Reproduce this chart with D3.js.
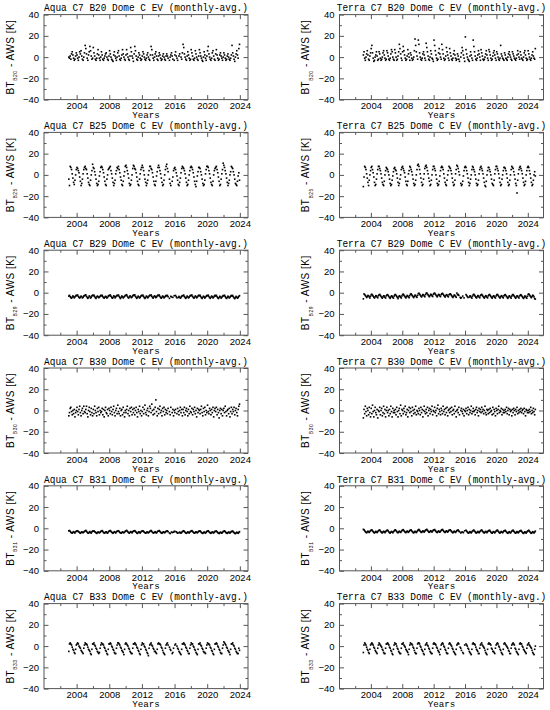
<!DOCTYPE html>
<html>
<head>
<meta charset="utf-8">
<script src="https://cdn.jsdelivr.net/npm/d3@7"></script>
<style>
  body { margin: 0; background: #fff; }
</style>
</head>
<body>
<svg id="chart" width="550" height="710"></svg>
<script>
// Monthly averages, Jan of firstYear onwards (one row per year, _ = no data)
var _ = null;
var firstYear = 2003;
var satellites = ["Aqua", "Terra"];
var bands = ["B20", "B25", "B29", "B30", "B31", "B33"];
var xTicks = [2004, 2008, 2012, 2016, 2020, 2024];
var xMinor = [2002, 2006, 2010, 2014, 2018, 2022];
var yTicks = [-40, -20, 0, 20, 40];
var yMinor = [-30, -10, 10, 30];

var aquaB20 = [
  0,-1,1,-2,3,5,2,-1,-3,-2,1,4,
  2,-1,-3,0,5,3,6,1,-2,-3,0,4,
  11,8,3,-1,-3,2,5,10,6,1,-2,-1,
  9,4,1,-2,-3,-1,3,7,2,-1,-3,0,
  5,2,-2,-3,-1,1,3,4,0,-2,-3,1,
  6,3,0,-2,-3,-4,2,5,1,-1,-3,0,
  4,6,1,-2,-3,-1,2,7,3,0,-2,-3,
  2,7,3,0,-2,-3,1,9,5,1,-1,-4,
  3,10,6,1,-2,-3,0,4,2,-1,-3,-2,
  1,5,3,0,-2,-3,-1,2,4,0,-2,-3,
  2,10,7,2,-1,-3,0,3,5,1,-2,-3,
  1,4,2,-1,-3,-2,1,3,0,-2,-3,1,
  3,1,-1,_,-3,0,2,4,1,-2,_,-3,
  2,5,1,-1,-3,_,1,3,_,0,-2,4,
  12,9,3,0,-2,-3,1,5,2,-1,-3,-2,
  7,4,1,-2,-3,-1,6,3,0,-2,-3,1,
  7,4,1,-1,-3,-4,0,5,2,-1,-3,1,
  6,10,3,0,-2,-3,-1,4,6,1,-2,-3,
  3,7,2,-1,-3,-2,2,4,1,-1,-3,0,
  4,2,-1,-3,-2,1,3,0,-2,-3,-1,2,
  11,4,1,-2,-4,0,3,6,2,-1,8,12
];
var terraB20 = [
  2,5,-1,-3,0,3,6,2,-2,-3,1,4,
  8,11,4,-1,-4,-3,0,2,5,1,-3,-2,
  5,3,-1,-3,-2,0,4,6,2,-1,-3,-2,
  6,4,1,-2,-3,-1,3,7,5,0,-2,-3,
  7,4,0,-3,-2,1,5,12,8,3,-1,-3,
  5,10,6,2,-1,-3,-2,1,7,3,0,-3,
  4,2,-1,-3,-2,0,6,17,11,5,1,-2,
  16,12,4,0,-2,-3,-1,3,5,2,-1,-3,
  13,9,5,1,-2,-3,0,6,3,-1,-2,-4,
  16,11,6,2,-1,-3,-2,4,8,3,0,-2,
  12,7,3,-1,-3,-2,1,9,5,2,-1,-3,
  8,4,1,-2,-3,-1,3,6,2,-1,-3,-2,
  3,1,-2,-4,_,0,4,9,6,2,-1,-4,
  19,7,3,0,-2,-3,-4,1,5,2,-1,-3,
  16,10,5,1,-2,-3,-1,2,6,3,0,-3,
  7,4,1,-2,-3,-2,0,3,6,2,-1,-3,
  7,5,2,-1,-3,-2,1,4,6,2,-1,-3,
  5,3,0,-2,-3,-1,11,3,1,-1,-2,-3,
  4,2,-1,-2,-3,0,3,5,2,0,-2,-3,
  5,3,1,-1,-2,-3,-1,2,6,3,0,-2,
  5,2,-1,-2,-3,0,4,6,2,-1,-3,-2,
  6,3,0,-2,-3,-1,2,5,1,-1,-2,8
];
var aquaB25 = [
  -4,-10,8,7,5,1,-3,-7,-9,-5,0,5,
  7,6,4,2,-2,-6,-10,-8,-4,1,5,7,
  8,6,5,1,-3,-7,-9,-10,-5,0,4,10,
  7,6,3,0,-4,-8,-10,-9,-6,-1,3,7,
  8,7,5,2,-2,-6,-9,-10,-4,0,5,6,
  7,8,4,1,-3,-7,-10,-8,-5,1,4,7,
  6,8,5,2,-2,-5,-9,-10,-6,-1,3,8,
  9,7,4,1,-3,-8,-10,-9,-5,0,6,9,
  8,6,5,2,-2,-6,-9,-10,-4,1,5,7,
  9,7,4,0,-4,-7,-10,-8,-5,0,4,8,
  8,6,5,2,-2,-6,-9,-10,-6,-1,3,7,
  9,7,4,1,-3,-7,-10,-9,-5,0,5,8,
  10,6,3,_,-4,-8,-10,_,-6,-2,4,6,
  7,5,2,-1,-5,-9,-10,-7,-3,2,6,8,
  7,6,4,1,-3,-7,-10,-9,-5,0,4,7,
  8,7,5,2,-2,-6,-9,-11,-6,-1,3,7,
  7,6,3,0,-4,-8,-10,-9,-5,1,5,8,
  8,7,4,1,-3,-7,-9,-10,-6,0,4,6,
  7,8,5,2,-2,-6,-10,-9,-4,1,5,11,
  9,7,4,1,-3,-7,-10,-8,-5,0,3,8,
  7,6,3,0,-4,-8,-9,-10,-6,-1,2,-5
];
var terraB25 = [
  -11,-2,8,7,5,1,-3,-7,-10,-5,0,4,
  7,8,5,2,-2,-7,-10,-9,-4,1,5,8,
  8,6,4,1,-3,-7,-9,-10,-6,0,4,7,
  6,5,3,0,-4,-8,-10,-9,-5,-1,3,6,
  7,5,4,1,-3,-7,-10,-8,-4,0,5,7,
  8,6,4,2,-2,-6,-9,-10,-6,1,4,8,
  7,5,3,0,-4,-8,-10,-9,-5,0,5,9,
  10,8,5,1,-3,-7,-10,-9,-4,1,6,8,
  9,7,4,1,-3,-6,-10,-9,-5,0,5,8,
  8,6,4,0,-4,-8,-10,-9,-6,-1,4,7,
  8,7,5,1,-3,-7,-9,-10,-5,0,4,8,
  7,6,4,1,-3,-7,-10,-9,-5,1,5,9,
  8,6,3,0,_,-8,-10,-9,-6,-1,4,7,
  8,7,4,1,-3,-7,-10,-8,-4,0,5,8,
  7,5,3,0,-4,-8,-10,-9,-5,1,5,7,
  8,6,4,1,-3,-7,-10,-11,-6,0,4,7,
  7,5,3,0,-4,-8,-9,-10,-5,1,5,8,
  8,6,4,1,-3,-7,-10,-9,-4,0,4,7,
  7,6,4,1,-3,-7,-10,-9,-5,0,5,8,
  7,6,3,0,-4,-8,-10,-17,-5,1,5,7,
  8,6,4,1,-3,-7,-10,-9,-6,0,4,7,
  8,7,4,1,-3,-7,-10,-9,-5,0,3,-1
];
var aquaB29 = [
  -3.2,-2.5,-3.8,-4.6,-5.2,-4.1,-3.0,-3.9,-4.8,-4.0,-3.1,-2.4,
  -2.8,-2.2,-3.5,-4.4,-5.0,-4.2,-3.3,-3.7,-4.9,-4.3,-3.2,-2.6,
  -2.6,-2.0,-3.4,-4.5,-5.3,-4.4,-3.1,-3.6,-5.1,-4.2,-3.0,-2.3,
  -2.9,-2.3,-3.6,-4.7,-5.4,-4.0,-3.2,-3.8,-4.7,-4.1,-3.3,-2.5,
  -3.0,-2.4,-3.7,-4.6,-5.1,-4.3,-3.4,-4.0,-5.0,-4.4,-3.2,-2.7,
  -2.7,-2.1,-3.3,-4.3,-5.2,-4.5,-3.0,-3.5,-4.8,-4.0,-3.1,-2.4,
  -2.8,-2.2,-3.5,-4.6,-5.5,-4.2,-3.1,-3.9,-4.9,-4.2,-3.4,-2.6,
  -2.5,-1.9,-3.2,-4.4,-5.0,-4.1,-3.0,-3.6,-4.7,-4.0,-3.0,-2.2,
  -2.6,-2.0,-3.4,-4.5,-5.3,-4.3,-3.3,-3.8,-5.0,-4.3,-3.2,-2.5,
  -2.9,-2.3,-3.6,-4.7,-5.4,-4.4,-3.2,-3.7,-4.8,-4.1,-3.1,-2.4,
  -2.7,-2.1,-3.3,-4.4,-5.1,-4.0,-3.0,-3.6,-4.6,-4.0,-3.0,-2.3,
  -2.8,-2.2,-3.5,-4.6,-5.2,-4.2,-3.1,-3.9,-4.9,-4.2,-3.3,-2.6,
  -3.0,-2.5,-3.8,_,-5.3,_,-3.4,-4.0,_,-4.4,_,-2.8,
  _,-2.6,-3.9,-4.8,_,-4.5,-3.5,-4.1,-5.1,-4.5,-3.4,-2.7,
  -2.9,-2.3,-3.6,-4.6,-5.3,-4.3,-3.2,-3.8,-4.9,-4.2,-3.2,-2.5,
  -2.8,-2.2,-3.5,-4.5,-5.2,-4.2,-3.1,-3.7,-4.8,-4.1,-3.1,-2.4,
  -3.0,-2.4,-3.7,-4.7,-5.4,-4.4,-3.3,-3.9,-5.0,-4.3,-3.3,-2.6,
  -2.9,-2.3,-3.6,-4.6,-5.3,-4.3,-3.2,-3.8,-4.9,-4.2,-3.2,-2.5,
  -3.1,-2.5,-3.8,-4.8,-5.5,-4.5,-3.4,-4.0,-5.1,-4.4,-3.4,-2.7,
  -3.0,-2.4,-3.7,-4.7,-5.4,-4.4,-3.3,-3.9,-5.0,-4.3,-3.3,-2.6,
  -3.2,-2.6,-3.9,-4.9,-5.6,-4.6,-3.5,-4.1,-5.2,-4.5,-3.5,-2.8
];
var terraB29 = [
  -5.8,-1.2,-1.8,-2.6,-3.4,-4.5,-3.7,-2.6,-2.9,-4.0,-5.0,-3.3,
  -1.9,-1.5,-2.4,-3.3,-4.2,-5.0,-3.9,-2.8,-3.1,-4.1,-4.8,-2.9,
  -2.0,-1.6,-2.5,-3.5,-4.4,-5.2,-4.0,-2.9,-3.2,-4.3,-5.0,-3.0,
  -2.2,-1.8,-2.7,-3.6,-4.5,-5.3,-4.1,-3.0,-3.4,-4.4,-5.1,-3.2,
  -2.1,-1.7,-2.6,-3.5,-4.4,-5.6,-4.0,-2.9,-3.3,-4.2,-5.0,-3.1,
  -1.8,-1.4,-2.3,-3.2,-4.1,-4.9,-3.7,-2.6,-3.0,-4.0,-4.7,-2.8,
  -1.5,-1.1,-2.0,-2.9,-3.8,-4.6,-3.4,-2.3,-2.7,-3.7,-4.4,-2.5,
  -0.9,-0.5,-1.4,-2.3,-3.2,-4.0,-2.8,-1.7,-2.1,-3.1,-3.8,-1.9,
  -0.6,-0.2,-1.2,-2.1,-3.0,-3.8,-2.6,-1.5,-1.9,-2.9,-3.6,-1.6,
  -0.8,-0.4,-1.3,-2.2,-3.1,-3.9,-2.7,-1.6,-2.0,-3.0,-3.7,-1.8,
  -1.0,-0.6,-1.5,-2.4,-3.3,-4.1,-2.9,-1.8,-2.2,-3.2,-3.9,-2.0,
  -1.4,-1.0,-1.9,-2.8,-3.7,-4.5,-3.3,-2.2,-2.6,-3.6,-4.3,-0.4,
  -2.0,-1.6,-2.5,_,-4.4,-5.2,-4.6,_,-3.2,_,-4.9,_,
  _,-1.8,-2.7,-3.6,-4.5,_,-4.1,-3.0,-3.4,-4.4,-5.1,-3.2,
  -1.9,-1.5,-2.4,-3.3,-4.2,-5.0,-3.8,-2.7,-3.1,-4.1,-4.8,-2.9,
  -2.0,-1.6,-2.5,-3.4,-4.3,-5.1,-3.9,-2.8,-3.2,-4.2,-4.9,-3.0,
  -2.1,-1.7,-2.6,-3.5,-4.4,-5.2,-4.0,-2.9,-3.3,-4.3,-5.0,-3.1,
  -2.0,-1.6,-2.5,-3.4,-4.3,-5.1,-3.9,-2.8,-3.2,-4.2,-4.9,-3.0,
  -2.2,-1.8,-2.7,-3.6,-4.5,-5.3,-4.1,-3.0,-3.4,-4.4,-5.1,-3.2,
  -2.1,-1.7,-2.6,-3.5,-4.4,-5.2,-4.0,-2.9,-3.3,-4.3,-5.0,-3.1,
  -2.3,-1.9,-2.8,-3.7,-4.6,-5.4,-4.2,-3.1,-3.5,-4.5,-5.2,-3.3,
  -1.6,-1.2,-2.1,-3.0,-3.9,-4.7,-3.5,-2.4,-2.8,-4.0,-5.6,-6.0
];
var aquaB30 = [
  -5,-2,2,3,-1,-4,0,-3,1,-6,-2,0,
  3,-1,-4,1,4,-2,-5,0,2,-3,4,-1,
  -2,1,4,-3,-6,0,3,-1,-4,2,-2,-5,
  1,-3,4,0,-2,-5,2,-1,3,-4,0,-2,
  -1,2,-4,1,-6,0,3,-2,-3,1,-5,2,
  0,-3,3,-1,-4,1,4,-2,-5,0,2,-3,
  5,-1,-3,2,-5,0,1,-4,3,-2,-6,0,
  -2,1,4,-3,0,-5,2,-1,3,-4,1,-2,
  2,-4,0,3,-2,-6,1,-1,4,-3,0,-5,
  -1,3,-3,1,5,-2,-4,0,2,-5,-1,4,
  2,-2,6,0,-4,1,-3,3,10,-1,-5,2,
  -3,1,4,-2,0,-5,2,-1,3,-4,1,-2,
  0,-3,2,_,-1,-4,3,_,-2,1,-5,0,
  -2,1,_,-3,2,-1,-4,0,3,-2,1,-5,
  1,-2,3,-4,0,2,-1,-5,1,-3,4,-1,
  -2,2,-4,1,-1,3,-3,0,-6,2,-2,1,
  0,-3,1,4,-2,-5,2,-1,3,-4,0,-2,
  5,-1,-3,2,0,-4,1,-2,3,-6,0,2,
  -1,3,-4,1,-2,-7,0,2,-3,1,-5,0,
  2,-2,4,-1,-5,0,1,-3,2,-6,-1,3,
  -3,1,-1,3,-4,0,2,-2,-5,1,4,6
];
var terraB30 = [
  -7,1,-3,4,-1,-5,2,0,-4,3,-2,-6,
  2,-3,5,-1,-6,0,3,-2,-4,1,-7,0,
  -1,3,-4,0,2,-5,-2,4,-3,1,-6,0,
  3,-2,0,-5,1,-3,4,-1,-6,2,-2,0,
  -2,1,-4,3,-1,-6,0,2,-3,5,-5,1,
  0,-3,2,-1,4,-4,-2,1,-6,0,3,-2,
  2,-1,-5,3,0,-3,1,-2,4,-4,0,-1,
  -3,2,0,-4,3,-2,1,-6,0,4,-1,-3,
  1,-2,3,-5,0,2,-3,1,-1,4,-4,0,
  -1,3,-2,0,-5,2,5,-3,1,-1,-4,2,
  0,-3,4,-1,1,-4,2,-2,3,-5,0,1,
  -2,2,-1,3,-4,0,1,-3,4,-1,-6,0,
  1,-2,3,-4,_,0,2,-1,-3,1,-5,0,
  -1,2,-3,0,3,-4,1,-2,0,4,-3,-1,
  2,-1,0,-4,1,3,-2,0,-5,2,-1,1,
  -2,3,-1,1,-3,0,4,-2,-4,1,0,-3,
  1,-2,2,-1,0,-4,3,-3,1,-1,-5,2,
  0,-3,1,4,-2,0,-1,2,-4,1,-2,0,
  -2,1,-1,3,-3,0,2,-4,1,-1,0,-5,
  1,-2,2,0,-4,1,-1,3,-3,0,-2,1,
  -1,2,-2,0,1,-3,2,-1,-5,1,0,-2,
  0,-2,1,-1,3,-3,0,-2,2,-1,-4,1
];
var aquaB31 = [
  -2.4,-2.1,-2.9,-3.7,-4.3,-4.5,-3.8,-3.2,-3.9,-4.4,-3.4,-2.7,
  -2.6,-2.3,-3.1,-3.5,-4.1,-4.7,-4.0,-3.4,-3.7,-4.2,-3.6,-2.9,
  -2.5,-2.0,-2.8,-3.8,-4.4,-4.6,-3.7,-3.1,-4.0,-4.5,-3.3,-2.6,
  -2.7,-2.4,-3.2,-3.6,-4.2,-4.8,-4.1,-3.5,-3.8,-4.3,-3.7,-3.0,
  -2.6,-2.2,-3.0,-3.9,-4.5,-4.4,-3.6,-3.3,-4.1,-4.6,-3.5,-2.8,
  -2.5,-2.1,-2.9,-3.6,-4.2,-4.7,-3.9,-3.2,-3.7,-4.4,-3.4,-2.7,
  -2.8,-2.3,-3.1,-3.8,-4.3,-4.5,-4.0,-3.4,-3.9,-4.2,-3.6,-2.9,
  -2.4,-2.0,-2.7,-3.5,-4.1,-4.6,-3.8,-3.1,-3.6,-4.3,-3.3,-2.6,
  -2.6,-2.2,-3.0,-3.7,-4.4,-4.8,-3.9,-3.3,-3.8,-4.5,-3.5,-2.8,
  -2.7,-2.3,-3.1,-3.6,-4.2,-4.6,-4.1,-3.4,-3.9,-4.3,-3.6,-3.0,
  -2.5,-2.1,-2.9,-3.8,-4.3,-4.4,-3.7,-3.2,-4.0,-4.4,-3.4,-2.7,
  -2.6,-2.2,-3.0,-3.7,-4.5,-4.7,-3.9,-3.3,-3.8,-4.2,-3.5,-2.8,
  -2.8,-2.4,-3.2,_,-4.4,-4.9,_,-3.5,-4.0,_,-3.7,-3.0,
  -2.9,_,-3.3,-3.9,-4.6,_,-4.2,-3.6,-4.1,-4.6,-3.8,-3.1,
  -2.7,-2.3,-3.1,-3.8,-4.4,-4.7,-4.0,-3.4,-3.9,-4.4,-3.6,-2.9,
  -2.6,-2.2,-3.0,-3.7,-4.3,-4.6,-3.9,-3.3,-3.8,-4.3,-3.5,-2.8,
  -2.8,-2.4,-3.2,-3.9,-4.5,-4.8,-4.1,-3.5,-4.0,-4.5,-3.7,-3.0,
  -2.7,-2.3,-3.1,-3.8,-4.4,-4.7,-4.0,-3.4,-3.9,-4.4,-3.6,-2.9,
  -2.9,-2.5,-3.3,-4.0,-4.6,-4.9,-4.2,-3.6,-4.1,-4.6,-3.8,-3.1,
  -2.8,-2.4,-3.2,-3.9,-4.5,-4.8,-4.1,-3.5,-4.0,-4.5,-3.7,-3.0,
  -3.0,-2.6,-3.4,-4.1,-4.7,-5.0,-4.3,-3.7,-4.2,-4.7,-3.9,-3.2
];
var terraB31 = [
  -1.0,-1.4,-2.3,-3.1,-3.8,-4.2,-3.4,-2.7,-3.3,-3.9,-3.0,-2.2,
  -1.8,-1.5,-2.4,-3.2,-3.9,-4.4,-3.6,-2.9,-3.5,-4.0,-3.1,-2.3,
  -1.9,-1.6,-2.5,-3.3,-4.0,-4.3,-3.5,-2.8,-3.4,-4.1,-3.2,-2.4,
  -2.0,-1.7,-2.6,-3.4,-4.1,-4.5,-3.7,-3.0,-3.6,-4.2,-3.3,-2.5,
  -1.8,-1.4,-2.3,-3.1,-3.8,-4.2,-3.4,-2.7,-3.3,-3.9,-3.0,-2.2,
  -1.7,-1.3,-2.2,-3.0,-3.7,-4.1,-3.3,-2.6,-3.2,-3.8,-2.9,-2.1,
  -1.9,-1.5,-2.4,-3.2,-3.9,-4.3,-3.5,-2.8,-3.4,-4.0,-3.1,-2.3,
  -1.5,-1.1,-2.0,-2.8,-3.5,-3.9,-3.1,-2.4,-3.0,-3.6,-2.7,-1.9,
  -1.4,-1.0,-1.9,-2.7,-3.4,-3.8,-3.0,-2.3,-2.9,-3.5,-2.6,-1.8,
  -1.6,-1.2,-2.1,-2.9,-3.6,-4.0,-3.2,-2.5,-3.1,-3.7,-2.8,-2.0,
  -1.5,-1.1,-2.0,-2.8,-3.5,-3.9,-3.1,-2.4,-3.0,-3.6,-2.7,-1.9,
  -1.8,-1.4,-2.3,-3.1,-3.8,-4.2,-3.4,-2.7,-3.3,-3.9,-3.0,-2.2,
  -2.0,-1.6,-2.5,-3.3,_,-4.4,-3.6,_,-3.5,-4.1,_,-2.4,
  _,-1.8,-2.7,-3.5,-4.2,-4.6,-3.8,-3.1,-3.7,-4.3,-3.4,-2.6,
  -2.1,-1.7,-2.6,-3.4,-4.1,-4.5,-3.7,-3.0,-3.6,-4.2,-3.3,-2.5,
  -2.0,-1.6,-2.5,-3.3,-4.0,-4.4,-3.6,-2.9,-3.5,-4.1,-3.2,-2.4,
  -2.2,-1.8,-2.7,-3.5,-4.2,-4.6,-3.8,-3.1,-3.7,-4.3,-3.4,-2.6,
  -2.1,-1.7,-2.6,-3.4,-4.1,-4.5,-3.7,-3.0,-3.6,-4.2,-3.3,-2.5,
  -2.3,-1.9,-2.8,-3.6,-4.3,-4.7,-3.9,-3.2,-3.8,-4.4,-3.5,-2.7,
  -2.2,-1.8,-2.7,-3.5,-4.2,-4.6,-3.8,-3.1,-3.7,-4.3,-3.4,-2.6,
  -2.4,-2.0,-2.9,-3.7,-4.4,-4.8,-4.0,-3.3,-3.9,-4.5,-3.6,-2.8,
  -2.3,-1.9,-2.8,-3.6,-4.3,-4.7,-3.9,-3.2,-3.8,-4.4,-3.5,-2.7
];
var aquaB33 = [
  -5,2,3,2,1,-1,-3,-4,-6,-7,-3,1,
  2,3,2,0,-1,-2,-4,-5,-6,-7,-2,1,
  3,2,2,1,-1,-3,-4,-5,-7,-8,-3,2,
  2,3,1,0,-2,-3,-5,-6,-7,-6,-2,1,
  3,2,2,1,-1,-2,-4,-5,-7,-8,-3,2,
  2,3,2,0,-1,-3,-4,-6,-7,-7,-2,1,
  3,3,2,1,-1,-2,-4,-5,-6,-8,-3,2,
  3,2,1,0,-2,-3,-5,-6,-7,-7,-2,2,
  2,3,2,1,-1,-2,-4,-5,-7,-8,-3,1,
  3,2,2,0,-1,-3,-4,-6,-7,-9,-2,1,
  2,3,1,0,-2,-3,-5,-5,-6,-7,-3,2,
  3,2,2,1,-1,-2,-4,-6,-7,-8,-2,1,
  2,3,1,_,-1,-3,-4,_,-7,-6,-2,_,
  1,2,_,0,-2,-3,-5,-6,-7,-8,-3,2,
  2,3,2,1,-1,-2,-4,-5,-7,-7,-2,1,
  3,2,2,0,-1,-3,-4,-6,-7,-8,-3,2,
  2,3,1,0,-2,-3,-5,-6,-6,-7,-2,1,
  3,2,2,1,-1,-2,-4,-5,-7,-8,-3,2,
  2,3,2,0,-1,-3,-4,-6,-7,-7,-2,1,
  4,3,2,1,-1,-2,-4,-5,-6,-8,-3,2,
  2,3,1,0,-2,-3,-5,-6,-7,-7,-2,-4
];
var terraB33 = [
  -6,1,3,2,1,-1,-3,-4,-6,-7,-3,1,
  2,3,2,1,-1,-2,-4,-5,-6,-7,-2,1,
  3,2,1,0,-1,-3,-4,-6,-7,-7,-2,2,
  2,3,2,1,-1,-2,-4,-5,-7,-8,-3,1,
  3,2,2,0,-2,-3,-5,-6,-7,-7,-2,2,
  2,3,1,0,-1,-3,-4,-5,-6,-8,-3,1,
  3,2,2,1,-1,-2,-4,-6,-7,-7,-2,2,
  3,3,2,0,-1,-3,-4,-5,-7,-8,-3,1,
  2,3,1,0,-2,-3,-5,-6,-7,-7,-2,2,
  3,2,2,1,-1,-2,-4,-5,-6,-8,-3,1,
  2,3,2,0,-1,-3,-4,-6,-7,-7,-2,2,
  3,2,1,0,-2,-3,-5,-6,-7,-8,-3,1,
  2,3,2,_,-1,-2,-4,_,-6,-7,_,1,
  _,2,1,0,-2,-3,-5,-6,-7,-8,-3,2,
  3,2,2,1,-1,-3,-4,-5,-7,-7,-2,1,
  2,3,1,0,-1,-2,-4,-6,-7,-8,-3,2,
  3,2,2,1,-2,-3,-5,-5,-6,-7,-2,1,
  2,3,2,0,-1,-3,-4,-6,-7,-8,-3,2,
  3,2,1,0,-1,-2,-4,-5,-7,-7,-2,1,
  2,3,2,1,-2,-3,-5,-6,-7,-8,-3,2,
  3,2,2,0,-1,-3,-4,-5,-6,-7,-2,1,
  2,3,1,0,-1,-2,-4,-6,-7,-8,-3,0
];

var series = {
  Aqua: [aquaB20, aquaB25, aquaB29, aquaB30, aquaB31, aquaB33],
  Terra: [terraB20, terraB25, terraB29, terraB30, terraB31, terraB33]
};

// ------ //
// Layout //
// ------ //
var rowTop = 14.6,
    rowStep = 117.8,
    plotH = 85;
var cols = [
  {x0: 44, x1: 248, end: 2025, labelX: 13.5},
  {x0: 339.5, x1: 543.5, end: 2026, labelX: 309}
];
var frameColor = "#555";

var svg = d3.select("#chart");
svg.append("rect").attr("width", 550).attr("height", 710).attr("fill", "#fff");

satellites.forEach(function(sat, c) {
  var col = cols[c];
  bands.forEach(function(band, r) {
    var top = rowTop + r * rowStep,
        bottom = top + plotH;

    var x = d3.scaleLinear().domain([2000, col.end]).range([col.x0, col.x1]),
        y = d3.scaleLinear().domain([-40, 40]).range([bottom, top]);

    var g = svg.append("g");

    // Axes (ticks point inwards on all four sides)
    var axes = [
      [d3.axisBottom(x).tickValues(xTicks).tickSize(-4.5).tickPadding(3).tickFormat(d3.format("d")), 0, bottom],
      [d3.axisBottom(x).tickValues(xMinor).tickSize(-2.5).tickFormat(""), 0, bottom],
      [d3.axisTop(x).tickValues(xTicks).tickSize(-4.5).tickFormat(""), 0, top],
      [d3.axisTop(x).tickValues(xMinor).tickSize(-2.5).tickFormat(""), 0, top],
      [d3.axisLeft(y).tickValues(yTicks).tickSize(-4.5).tickPadding(5), col.x0, 0],
      [d3.axisLeft(y).tickValues(yMinor).tickSize(-2.5).tickFormat(""), col.x0, 0],
      [d3.axisRight(y).tickValues(yTicks).tickSize(-4.5).tickFormat(""), col.x1, 0],
      [d3.axisRight(y).tickValues(yMinor).tickSize(-2.5).tickFormat(""), col.x1, 0]
    ];
    axes.forEach(function(a) {
      var ag = g.append("g")
          .attr("transform", "translate(" + a[1] + "," + a[2] + ")")
          .call(a[0]);
      ag.select(".domain").remove();
      ag.selectAll(".tick line").attr("stroke", frameColor);
      ag.selectAll(".tick text")
          .attr("fill", "#000")
          .style("font-family", "'Liberation Sans', Arial, sans-serif")
          .style("font-size", "9.5px");
    });

    // Frame
    g.append("rect")
        .attr("x", col.x0).attr("y", top)
        .attr("width", col.x1 - col.x0).attr("height", plotH)
        .attr("fill", "none")
        .attr("stroke", frameColor)
        .attr("stroke-width", 1);

    // Points
    var pts = series[sat][r]
        .map(function(v, k) { return {t: firstYear + (k + 0.5) / 12, v: v}; })
        .filter(function(d) { return d.v !== null; });
    g.append("g").selectAll("rect")
        .data(pts).enter()
        .append("rect")
        .attr("x", function(d) { return x(d.t) - 0.8; })
        .attr("y", function(d) { return y(d.v) - 0.8; })
        .attr("width", 1.6)
        .attr("height", 1.6)
        .attr("fill", "#000");

    // Title (monospace, squeezed horizontally to the plot width)
    g.append("text")
        .attr("transform", "translate(" + (col.x0 + col.x1) / 2 + "," + (top - 3.3) + ") scale(0.9,1)")
        .attr("text-anchor", "middle")
        .attr("fill", "#000")
        .style("font-family", "'Liberation Mono', 'Courier New', monospace")
        .style("font-size", "10.5px")
        .text(sat + " C7 " + band + " Dome C EV (monthly-avg.)");

    // X axis title
    g.append("text")
        .attr("x", (col.x0 + col.x1) / 2)
        .attr("y", bottom + 18.6)
        .attr("text-anchor", "middle")
        .attr("fill", "#000")
        .style("font-family", "'Liberation Mono', 'Courier New', monospace")
        .style("font-size", "9.2px")
        .text("Years");

    // Y axis title with subscript
    var yl = g.append("text")
        .attr("transform", "translate(" + col.labelX + "," + (top + bottom) / 2 + ") rotate(-90)")
        .attr("text-anchor", "middle")
        .attr("fill", "#000")
        .style("font-family", "'Liberation Sans', Arial, sans-serif")
        .style("font-size", "10px")
        .style("letter-spacing", "0.5px");
    yl.append("tspan").text("BT");
    yl.append("tspan").attr("dy", 3.5).style("font-size", "5px").text(band);
    yl.append("tspan").attr("dy", -3.5).text(" - AWS [K]");
  });
});
</script>
</body>
</html>
